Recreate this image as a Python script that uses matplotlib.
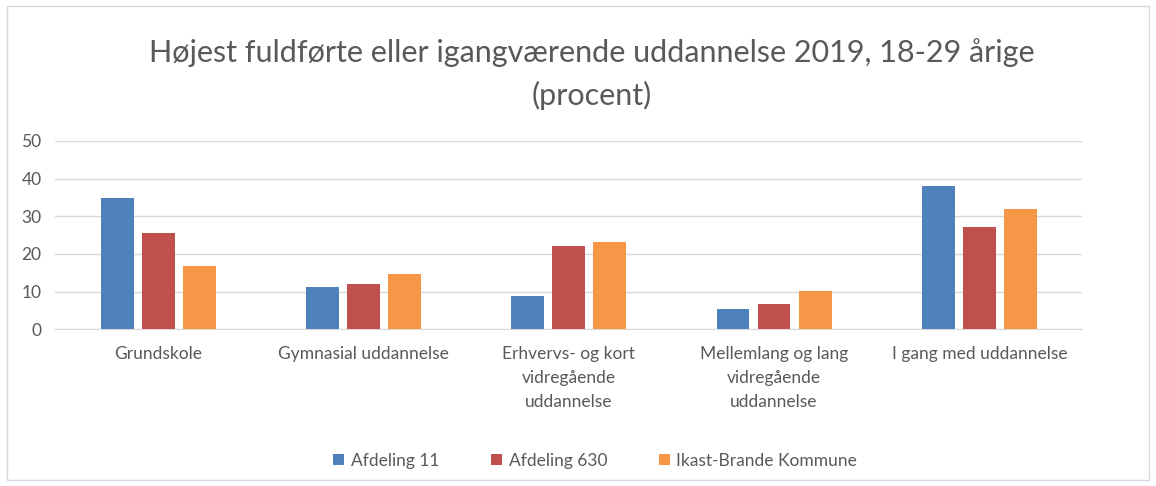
import numpy as np
import matplotlib.pyplot as plt
from matplotlib.patches import Rectangle

# ==========================
# DATA
# ==========================
categories = [
    "Grundskole",
    "Gymnasial uddannelse",
    "Erhvervs- og kort\nvidregående\nuddannelse",
    "Mellemlang og lang\nvidregående\nuddannelse",
    "I gang med uddannelse",
]
series_names = ["Afdeling 11", "Afdeling 630", "Ikast-Brande Kommune"]
afd_11 = [34.8, 11.2, 8.8, 5.3, 38.1]
afd_630 = [25.6, 12.1, 22.2, 6.8, 27.1]
ikast_brande = [16.9, 14.6, 23.2, 10.2, 31.9]
y_ticks = [0, 10, 20, 30, 40, 50]

colors = ["#4F81BD", "#C0504D", "#F79646"]
text_color = "#595959"

plt.rcParams["font.family"] = ["Lato", "DejaVu Sans"]

# ==========================
# FIGURE
# ==========================
fig = plt.figure(figsize=(11.56, 4.86), dpi=100)
fig.patches.append(Rectangle((0.006, 0.012), 0.988, 0.976, transform=fig.transFigure,
                             fill=False, edgecolor="#d9d9d9", linewidth=1))

ax = fig.add_axes([0.048, 0.3224, 0.888, 0.3875])

x = np.arange(len(categories))
width = 0.16
offset = 0.2
for i, (vals, name) in enumerate(zip([afd_11, afd_630, ikast_brande], series_names)):
    ax.bar(x + (i - 1) * offset, vals, width, color=colors[i], label=name, zorder=3)

ax.set_xlim(-0.5, len(categories) - 0.5)
ax.set_ylim(0, 50)
ax.set_yticks(y_ticks)
ax.set_xticks(x)
ax.set_xticklabels(categories, fontsize=12.5, color=text_color, linespacing=1.6)
ax.tick_params(axis="y", labelsize=12.5, colors=text_color, length=0, pad=10)
ax.tick_params(axis="x", length=0, pad=12)
ax.grid(axis="y", color="#d9d9d9", linewidth=1, zorder=0)

for side in ["top", "right", "left"]:
    ax.spines[side].set_visible(False)
ax.spines["bottom"].set_color("#d9d9d9")

fig.text(0.512, 0.848, "Højest fuldførte eller igangværende uddannelse 2019, 18-29 årige\n(procent)",
         ha="center", va="center", fontsize=22, color=text_color, linespacing=1.6)

ax.legend(loc="center", bbox_to_anchor=(0.515, 0.052), bbox_transform=fig.transFigure,
          ncol=3, frameon=False, fontsize=12.5, labelcolor=text_color,
          handlelength=0.6, handleheight=0.6, handletextpad=0.4, columnspacing=3.0)

plt.savefig("out.png", dpi=100)
